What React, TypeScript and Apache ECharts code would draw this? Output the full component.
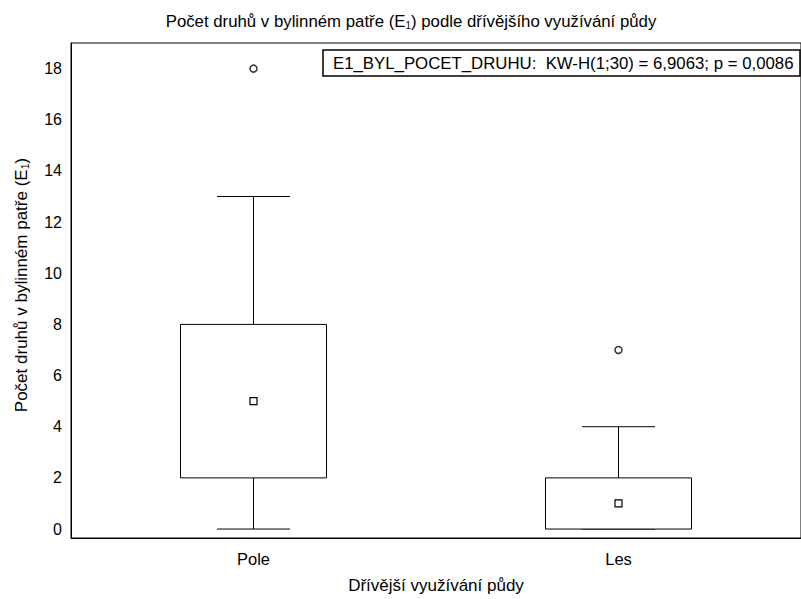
import React, { useEffect, useRef } from "react";
import * as echarts from "echarts";

const categories = ["Pole", "Les"];
const whiskerLow = [0, 0];
const q1 = [2, 0];
const median = [5, 1];
const q3 = [8, 2];
const whiskerHigh = [13, 4];
const outliers: [number, number][] = [
  [0, 18],
  [1, 7],
];
const yTicks = [0, 2, 4, 6, 8, 10, 12, 14, 16, 18];
const statText = "E1_BYL_POCET_DRUHU:  KW-H(1;30) = 6,9063; p = 0,0086";
const titleText = "Počet druhů v bylinném patře (E{sub|1}) podle dřívějšího využívání půdy";
const yName = "Počet druhů v bylinném patře (E{sub|1})";
const xName = "Dřívější využívání půdy";

const FONT = "Liberation Sans, Arial, sans-serif";

export default function App() {
  const ref = useRef<HTMLDivElement>(null);
  useEffect(() => {
    if (!ref.current) return;
    const chart = echarts.init(ref.current, undefined, { renderer: "svg" });
    const boxData = categories.map((_, i) => [i, whiskerLow[i], q1[i], median[i], q3[i], whiskerHigh[i]]);
    const sub = (fs: number) => ({
      sub: { fontSize: fs, verticalAlign: "bottom", padding: [8, 0, 0, 0], fontFamily: FONT, color: "#000", fill: "#000" },
    });
    chart.setOption({
      animation: false,
      backgroundColor: "#fff",
      textStyle: { fontFamily: FONT },
      grid: {
        left: 71,
        right: -2,
        top: 43,
        bottom: 57,
        show: true,
        borderColor: "#000",
        borderWidth: 1,
        containLabel: false,
      },
      xAxis: {
        type: "category",
        data: categories,
        name: xName,
        nameLocation: "middle",
        nameGap: 39,
        nameTextStyle: { fontFamily: FONT, fontSize: 17, color: "#000" },
        axisLine: { show: true, onZero: false, lineStyle: { color: "#000", width: 1 } },
        axisTick: { show: false },
        axisLabel: { fontFamily: FONT, fontSize: 16.5, color: "#000", margin: 12 },
        splitLine: { show: false },
      },
      yAxis: {
        type: "value",
        min: -0.35,
        max: 19,
        axisLine: { show: true, onZero: false, lineStyle: { color: "#000", width: 1 } },
        axisTick: { show: false, customValues: yTicks },
        axisLabel: { fontFamily: FONT, fontSize: 16, color: "#000", margin: 9, customValues: yTicks },
        splitLine: { show: false },
      },
      graphic: [
        {
          type: "text",
          x: 411,
          y: 21,
          style: {
            text: titleText,
            fontFamily: FONT,
            fontSize: 16.8,
            fill: "#000",
            align: "center",
            verticalAlign: "middle",
            rich: sub(10),
          },
        },
        {
          type: "text",
          x: 21,
          y: 285,
          rotation: Math.PI / 2,
          style: {
            text: yName,
            fontFamily: FONT,
            fontSize: 17,
            fill: "#000",
            align: "center",
            verticalAlign: "middle",
            rich: sub(10.5),
          },
        },
        {
          type: "rect",
          shape: { x: 323, y: 50, width: 477, height: 26 },
          style: { fill: "#fff", stroke: "#000", lineWidth: 1.5 },
          z: 100,
        },
        {
          type: "text",
          x: 333,
          y: 63,
          style: {
            text: statText,
            fontFamily: FONT,
            fontSize: 16.8,
            fill: "#000",
            verticalAlign: "middle",
          },
          z: 101,
        },
      ],
      series: [
        {
          type: "custom",
          data: boxData,
          encode: { x: 0, y: [1, 2, 3, 4, 5] },
          renderItem: (params: any, api: any) => {
            const x = api.value(0);
            const lo = api.coord([x, api.value(1)]);
            const b1 = api.coord([x, api.value(2)]);
            const md = api.coord([x, api.value(3)]);
            const b3 = api.coord([x, api.value(4)]);
            const hi = api.coord([x, api.value(5)]);
            const band = api.size([1, 0])[0];
            const bw = band * 0.4;
            const cw = band * 0.2;
            const cx = lo[0];
            const ls = { stroke: "#000", lineWidth: 1, fill: "none" };
            return {
              type: "group",
              children: [
                { type: "line", shape: { x1: cx, y1: lo[1], x2: cx, y2: b1[1] }, style: ls },
                { type: "line", shape: { x1: cx, y1: b3[1], x2: cx, y2: hi[1] }, style: ls },
                { type: "line", shape: { x1: cx - cw / 2, y1: lo[1], x2: cx + cw / 2, y2: lo[1] }, style: ls },
                { type: "line", shape: { x1: cx - cw / 2, y1: hi[1], x2: cx + cw / 2, y2: hi[1] }, style: ls },
                {
                  type: "rect",
                  shape: { x: cx - bw / 2, y: b3[1], width: bw, height: b1[1] - b3[1] },
                  style: { stroke: "#000", lineWidth: 1, fill: "#fff" },
                },
                {
                  type: "rect",
                  shape: { x: cx - 3.5, y: md[1] - 3.5, width: 7, height: 7 },
                  style: { stroke: "#000", lineWidth: 1.2, fill: "#fff" },
                },
              ],
            };
          },
          z: 2,
        },
        {
          type: "scatter",
          data: outliers,
          symbol: "circle",
          symbolSize: 7,
          itemStyle: { color: "#fff", borderColor: "#000", borderWidth: 1.5 },
          z: 3,
        },
      ],
    });
    return () => chart.dispose();
  }, []);
  return (
    <div
      ref={ref}
      style={{ position: "absolute", left: 0, top: 0, width: 801, height: 599 }}
    />
  );
}
